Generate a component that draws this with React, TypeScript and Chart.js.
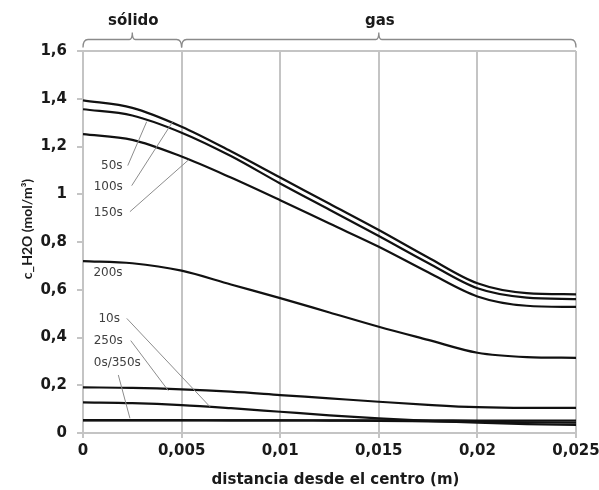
import React, { useEffect, useRef } from "react";
import { Chart, registerables } from "chart.js";

Chart.register(...registerables);

// distance from centre (m)
const xValues = [0, 0.0025, 0.005, 0.0075, 0.01, 0.0125, 0.015, 0.0175, 0.02, 0.0225, 0.025];

// c_H2O (mol/m3) per time
const s100 = [1.393, 1.362, 1.283, 1.18, 1.07, 0.96, 0.85, 0.735, 0.627, 0.586, 0.581];
const s50 = [1.356, 1.33, 1.258, 1.16, 1.045, 0.935, 0.825, 0.712, 0.606, 0.567, 0.561];
const s150 = [1.252, 1.228, 1.158, 1.07, 0.975, 0.877, 0.78, 0.673, 0.572, 0.533, 0.528];
const s200 = [0.72, 0.711, 0.68, 0.622, 0.565, 0.505, 0.445, 0.39, 0.336, 0.318, 0.315];
const s250 = [0.191, 0.189, 0.183, 0.173, 0.159, 0.145, 0.131, 0.118, 0.108, 0.105, 0.105];
const s10 = [0.128, 0.125, 0.117, 0.104, 0.089, 0.074, 0.061, 0.051, 0.043, 0.037, 0.034];
const s0 = [0.053, 0.053, 0.053, 0.053, 0.053, 0.053, 0.053, 0.053, 0.052, 0.052, 0.052];
const s350 = [0.054, 0.054, 0.054, 0.053, 0.053, 0.052, 0.051, 0.049, 0.047, 0.045, 0.043];

const seriesNames = ["100s", "50s", "150s", "200s", "250s", "10s", "0s", "350s"];
const seriesValues = [s100, s50, s150, s200, s250, s10, s0, s350];

// curve labels (data coordinates) and leader lines
const labelTexts = ["50s", "100s", "150s", "200s", "10s", "250s", "0s/350s"];
const labelX = [0.00146, 0.00128, 0.00128, 0.00127, 0.00133, 0.00128, 0.00174];
const labelY = [1.12, 1.032, 0.924, 0.67, 0.4775, 0.385, 0.294];
const leaderX1 = [0.00227, 0.00247, 0.00238, null, 0.00222, 0.00242, 0.00179];
const leaderY1 = [1.12, 1.036, 0.927, null, 0.48, 0.387, 0.243];
const leaderX2 = [0.00323, 0.00455, 0.00534, null, 0.00644, 0.00433, 0.00238];
const leaderY2 = [1.304, 1.304, 1.143, null, 0.11, 0.177, 0.0616];

// region brackets
const regionNames = ["sólido", "gas"];
const regionStart = [0, 0.005];
const regionEnd = [0.005, 0.025];

const xTitle = "distancia desde el centro (m)";
const yTitle = "c_H2O (mol/m³)";

const GRID = "#c4c4c4";
const BRACKET = "#8a8a8a";

const fmt = (v: number, d: number) => {
  const r = Math.round(v * Math.pow(10, d)) / Math.pow(10, d);
  return String(r).replace(".", ",");
};

const annotPlugin = {
  id: "annot",
  afterDraw(chart: any) {
    const { ctx, scales, chartArea } = chart;
    const xs = scales.x;
    const ys = scales.y;
    ctx.save();
    // leader lines
    ctx.strokeStyle = "#8c8c8c";
    ctx.lineWidth = 1;
    for (let i = 0; i < labelTexts.length; i++) {
      if (leaderX1[i] === null) continue;
      ctx.beginPath();
      ctx.moveTo(xs.getPixelForValue(leaderX1[i]), ys.getPixelForValue(leaderY1[i]));
      ctx.lineTo(xs.getPixelForValue(leaderX2[i]), ys.getPixelForValue(leaderY2[i]));
      ctx.stroke();
    }
    // labels
    ctx.fillStyle = "#404040";
    ctx.font = "12px 'DejaVu Sans'";
    ctx.textAlign = "center";
    ctx.textBaseline = "middle";
    for (let i = 0; i < labelTexts.length; i++) {
      ctx.fillText(labelTexts[i], xs.getPixelForValue(labelX[i]), ys.getPixelForValue(labelY[i]));
    }
    // brackets
    const by = chartArea.top - 11.5;
    ctx.strokeStyle = BRACKET;
    ctx.lineWidth = 1.3;
    ctx.fillStyle = "#1a1a1a";
    ctx.font = "bold 15px 'DejaVu Sans'";
    for (let i = 0; i < regionNames.length; i++) {
      const x0 = xs.getPixelForValue(regionStart[i]);
      const x1 = xs.getPixelForValue(regionEnd[i]);
      const m = (x0 + x1) / 2;
      ctx.beginPath();
      ctx.moveTo(x0, by + 8);
      ctx.quadraticCurveTo(x0, by, x0 + 5, by);
      ctx.lineTo(m - 3, by);
      ctx.quadraticCurveTo(m, by, m, by - 7);
      ctx.quadraticCurveTo(m, by, m + 3, by);
      ctx.lineTo(x1 - 5, by);
      ctx.quadraticCurveTo(x1, by, x1, by + 8);
      ctx.stroke();
      ctx.fillText(regionNames[i], m + 1, by - 18);
    }
    // axis titles
    ctx.fillStyle = "#1a1a1a";
    ctx.font = "bold 15px 'DejaVu Sans'";
    ctx.textAlign = "center";
    ctx.textBaseline = "middle";
    ctx.fillText(xTitle, (chartArea.left + chartArea.right) / 2 + 6, chart.height - 10);
    ctx.save();
    ctx.translate(27, (chartArea.top + chartArea.bottom) / 2 - 13);
    ctx.rotate(-Math.PI / 2);
    ctx.font = "bold 14px Lato";
    ctx.fillText(yTitle, 0, 0);
    ctx.restore();
    ctx.restore();
  },
};

export default function App() {
  const ref = useRef<HTMLCanvasElement>(null);
  useEffect(() => {
    if (!ref.current) return;
    const chart = new Chart(ref.current, {
      type: "line",
      data: {
        datasets: seriesNames.map((name, k) => ({
          label: name,
          data: xValues.map((x, i) => ({ x, y: seriesValues[k][i] })),
          borderColor: "#111111",
          borderWidth: 2.2,
          pointRadius: 0,
          fill: false,
          cubicInterpolationMode: "monotone" as const,
        })),
      },
      options: {
        responsive: false,
        animation: false,
        layout: { padding: { left: 0, top: 51, right: 23, bottom: 0 } },
        plugins: {
          legend: { display: false },
          tooltip: { enabled: false },
          title: { display: false },
        },
        scales: {
          x: {
            type: "linear",
            min: 0,
            max: 0.025,
            afterFit: (s: any) => {
              s.height = 57;
              s.paddingRight = 0;
              s.paddingLeft = 0;
            },
            ticks: {
              stepSize: 0.005,
              padding: 4,
              color: "#1a1a1a",
              font: { family: "'DejaVu Sans'", size: 15, weight: "bold" },
              callback: (v: any) => fmt(Number(v), 3),
              maxRotation: 0,
            },
            grid: { color: GRID, lineWidth: 2, tickLength: 5, tickColor: GRID },
            border: { display: true, color: GRID, width: 2 },
          },
          y: {
            type: "linear",
            min: 0,
            max: 1.6,
            afterFit: (s: any) => {
              s.width = 83;
              s.paddingTop = 0;
              s.paddingBottom = 0;
            },
            ticks: {
              stepSize: 0.2,
              padding: 10,
              color: "#1a1a1a",
              font: { family: "'DejaVu Sans'", size: 15, weight: "bold" },
              callback: (v: any) => fmt(Number(v), 1),
            },
            grid: {
              color: (c: any) => (c.tick && c.tick.value > 1.59 ? GRID : "rgba(0,0,0,0)"),
              lineWidth: 2,
              tickLength: 6,
              tickColor: GRID,
            },
            border: { display: true, color: GRID, width: 2 },
          },
        },
      },
      plugins: [annotPlugin],
    });
    return () => chart.destroy();
  }, []);
  return (
    <div style={{ position: "absolute", left: 0, top: 0, width: 599, height: 490 }}>
      <canvas ref={ref} width={599} height={490} />
    </div>
  );
}
